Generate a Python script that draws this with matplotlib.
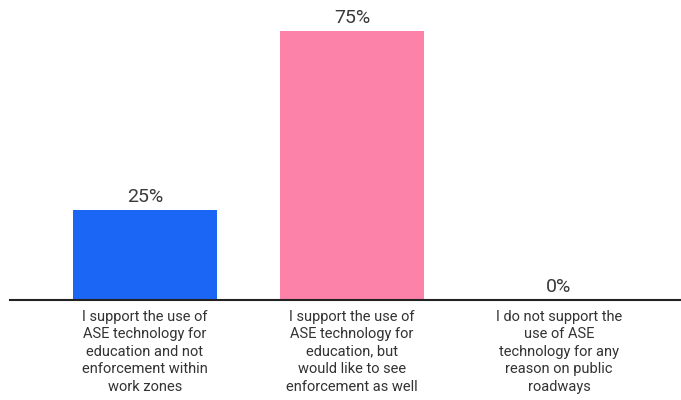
import matplotlib
matplotlib.use("Agg")
import matplotlib.pyplot as plt

categories = [
    "I support the use of\nASE technology for\neducation and not\nenforcement within\nwork zones",
    "I support the use of\nASE technology for\neducation, but\nwould like to see\nenforcement as well",
    "I do not support the\nuse of ASE\ntechnology for any\nreason on public\nroadways",
]
values = [25, 75, 0]
colors = ["#1b66f4", "#fd82a9", "#999999"]

fig = plt.figure(figsize=(6.81, 4.0), dpi=100)
ax = fig.add_axes([10 / 681, 100 / 400, 671 / 681, 287 / 400])

x = list(range(len(values)))
ax.bar(x, values, width=0.70, color=colors, zorder=2)
for xi, v in zip(x, values):
    ax.text(xi, v + 1.1, f"{v}%", ha="center", va="bottom", fontsize=14,
            color="#3a3a3a", family="Roboto")

ax.set_xlim((10 - 145) / 207, (681 - 145) / 207)
ax.set_ylim(0, 80)
ax.set_xticks(x)
ax.set_xticklabels(categories, fontsize=10.5, color="#333333", family="Roboto",
                   linespacing=1.32)
ax.tick_params(axis="x", length=0, pad=7)
ax.set_yticks([])
for s in ["top", "right", "left"]:
    ax.spines[s].set_visible(False)
ax.spines["bottom"].set_color("#222222")
ax.spines["bottom"].set_linewidth(1.5)

fig.savefig("out.png", dpi=100)
